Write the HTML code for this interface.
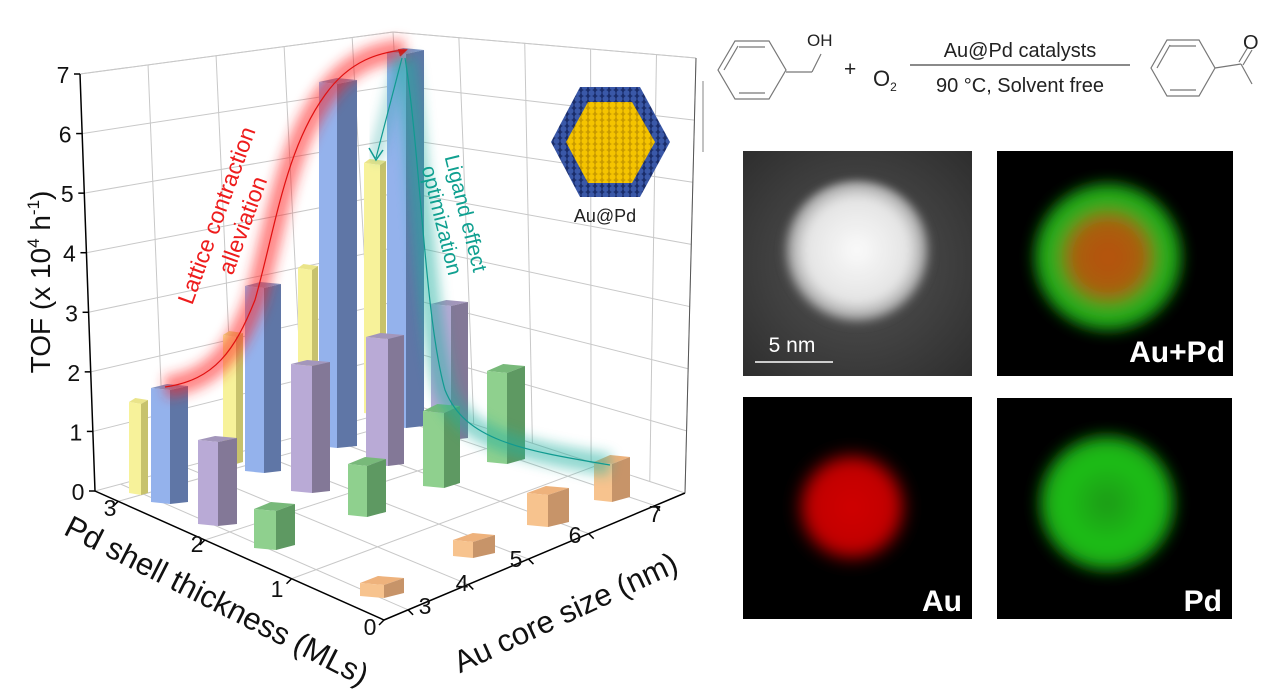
<!DOCTYPE html>
<html><head><meta charset="utf-8"><style>
html,body{margin:0;padding:0;background:#fff;}
svg{display:block;font-family:"Liberation Sans",Arial,sans-serif;}
</style></head><body>
<svg id="s" width="1266" height="698" viewBox="0 0 1266 698" xmlns="http://www.w3.org/2000/svg">
<defs>
<filter id="blur8" x="-20%" y="-20%" width="140%" height="140%"><feGaussianBlur stdDeviation="6"/></filter>
<filter id="blur3"><feGaussianBlur stdDeviation="4"/></filter>
<filter id="blurP" x="-50%" y="-50%" width="200%" height="200%"><feGaussianBlur stdDeviation="7"/></filter>
<radialGradient id="haadf" cx="0.5" cy="0.45" r="0.5"><stop offset="0" stop-color="#fafafa"/><stop offset="0.65" stop-color="#e4e4e4"/><stop offset="0.85" stop-color="#aaa"/><stop offset="1" stop-color="#4a4a4a" stop-opacity="0"/></radialGradient>
<radialGradient id="hbg" cx="0.5" cy="0.5" r="0.7"><stop offset="0" stop-color="#555"/><stop offset="1" stop-color="#2e2e2e"/></radialGradient>
<radialGradient id="rg" cx="0.5" cy="0.5" r="0.5"><stop offset="0" stop-color="#d00000"/><stop offset="0.7" stop-color="#c00000"/><stop offset="1" stop-color="#300" stop-opacity="0"/></radialGradient>
<radialGradient id="gg" cx="0.5" cy="0.5" r="0.5"><stop offset="0" stop-color="#1a9a10"/><stop offset="0.6" stop-color="#20c01a"/><stop offset="0.85" stop-color="#18a012"/><stop offset="1" stop-color="#030" stop-opacity="0"/></radialGradient>
<radialGradient id="mg" cx="0.5" cy="0.5" r="0.5"><stop offset="0" stop-color="#b85010"/><stop offset="0.45" stop-color="#a86010"/><stop offset="0.68" stop-color="#30b020"/><stop offset="0.9" stop-color="#18a012"/><stop offset="1" stop-color="#030" stop-opacity="0"/></radialGradient>
<pattern id="gold" width="7" height="6" patternUnits="userSpaceOnUse"><rect width="7" height="6" fill="#c89a00"/><circle cx="3.5" cy="3" r="3" fill="#f5c400"/></pattern>
<pattern id="blue" width="7" height="6" patternUnits="userSpaceOnUse"><rect width="7" height="6" fill="#1a2d6a"/><circle cx="3.5" cy="3" r="3" fill="#3a58a8"/></pattern>
</defs>
<g id="grid" stroke="#c8c8c8" stroke-width="1" fill="none"></g>
<g id="axes" stroke="#000" stroke-width="1.5" fill="none"></g>
<g id="bars"></g>
<g id="glow">
<path d="M165,387 C215,380 235,350 255,300 C275,230 285,150 325,95 C350,60 380,52 405,50" stroke="#ff2020" stroke-width="22" fill="none" opacity="0.55" filter="url(#blur8)"/>
<path d="M165,387 C215,380 235,350 255,300 C275,230 285,150 325,95 C350,60 380,52 405,50" stroke="#e01010" stroke-width="1.2" fill="none"/>
<path d="M398,50 l8,0 l-6,6" stroke="#e01010" stroke-width="1.5" fill="#e01010"/>
<path d="M405,58 C420,150 425,320 445,390 C465,440 520,450 610,465" stroke="#20b0a0" stroke-width="22" fill="none" opacity="0.5" filter="url(#blur8)"/>
<path d="M405,58 C420,150 425,320 445,390 C465,440 520,450 610,465" stroke="#109a90" stroke-width="1.2" fill="none"/>
<path d="M402,58 L375,160" stroke="#20a5a0" stroke-width="14" opacity="0.35" filter="url(#blur8)"/>
<path d="M402,58 L376,158" stroke="#109a90" stroke-width="1.2"/>
<path d="M369,148 L376,160 L383,150" stroke="#109a90" stroke-width="1.5" fill="none"/>
<text transform="translate(224,218) rotate(-70)" font-size="23" fill="#ee1c1c" text-anchor="middle">Lattice contraction</text>
<text transform="translate(250,228) rotate(-70)" font-size="23" fill="#ee1c1c" text-anchor="middle">alleviation</text>
<text transform="translate(459,215) rotate(76)" font-size="21" fill="#10a090" text-anchor="middle">Ligand effect</text>
<text transform="translate(435,222) rotate(76)" font-size="21" fill="#10a090" text-anchor="middle">optimization</text>
</g>
<polygon points="551,142 580,87 640,87 670,142 640,197 580,197" fill="url(#blue)"/>
<polygon points="566,142 588,102 632,102 655,142 632,183 588,183" fill="url(#gold)"/>
<text x="605" y="222" font-size="18" text-anchor="middle" fill="#222">Au@Pd</text>
<text transform="translate(50,282) rotate(-90)" font-size="28" text-anchor="middle" fill="#111">TOF (x 10<tspan font-size="17" dy="-11">4</tspan><tspan dy="11"> h</tspan><tspan font-size="17" dy="-11">-1</tspan><tspan dy="11">)</tspan></text>
<text transform="translate(212,610) rotate(27)" font-size="31" text-anchor="middle" fill="#111">Pd shell thickness (MLs)</text>
<text transform="translate(570,622) rotate(-25)" font-size="31" text-anchor="middle" fill="#111">Au core size (nm)</text>
<g id="ticks" font-size="23" fill="#111" text-anchor="middle"></g>
<g stroke="#777" stroke-width="1.2" fill="none">
<polygon points="718,70 735,41 769,41 786,70 769,99 735,99"/>
<line x1="739" y1="47" x2="765" y2="47"/><line x1="739" y1="93" x2="765" y2="93"/><line x1="724" y1="70" x2="738" y2="46"/>
<line x1="786" y1="72" x2="812" y2="72"/><line x1="812" y1="72" x2="821" y2="54"/>
<line x1="910" y1="65" x2="1130" y2="65" stroke="#444"/>
<polygon points="1151,68 1167,40 1199,40 1215,68 1199,96 1167,96"/>
<line x1="1170" y1="46" x2="1196" y2="46"/><line x1="1170" y1="90" x2="1196" y2="90"/><line x1="1157" y1="68" x2="1170" y2="45"/>
<line x1="1215" y1="68" x2="1241" y2="64"/><line x1="1241" y1="64" x2="1252" y2="84"/><line x1="1239" y1="62" x2="1248" y2="47"/><line x1="1243" y1="65" x2="1252" y2="50"/>
<line x1="703" y1="81" x2="703" y2="152" stroke="#999"/>
</g>
<text x="807" y="46" font-size="17" fill="#222">OH</text>
<text x="844" y="76" font-size="21" fill="#222">+</text>
<text x="873" y="86" font-size="22" fill="#222">O<tspan font-size="12" dy="5">2</tspan></text>
<text x="1020" y="57" font-size="20" text-anchor="middle" fill="#222">Au@Pd catalysts</text>
<text x="1020" y="92" font-size="20" text-anchor="middle" fill="#222">90 °C, Solvent free</text>
<text x="1243" y="49" font-size="20" fill="#222">O</text>
<rect x="743" y="151" width="229" height="225" fill="url(#hbg)"/>
<circle cx="857" cy="258" r="78" fill="url(#haadf)" filter="url(#blur3)"/>
<text x="792" y="352" font-size="21" text-anchor="middle" fill="#fff">5 nm</text>
<line x1="755" y1="362" x2="833" y2="362" stroke="#fff" stroke-width="1.5"/>
<rect x="997" y="151" width="236" height="225" fill="#000"/>
<circle cx="1108" cy="257" r="78" fill="url(#mg)" filter="url(#blurP)"/>
<text x="1225" y="362" font-size="30" font-weight="bold" text-anchor="end" fill="#fff">Au+Pd</text>
<rect x="743" y="397" width="229" height="222" fill="#000"/>
<circle cx="852" cy="507" r="62" fill="url(#rg)" filter="url(#blurP)"/>
<text x="962" y="611" font-size="30" font-weight="bold" text-anchor="end" fill="#fff">Au</text>
<rect x="997" y="398" width="235" height="221" fill="#000"/>
<circle cx="1107" cy="503" r="74" fill="url(#gg)" filter="url(#blurP)"/>
<text x="1222" y="611" font-size="30" font-weight="bold" text-anchor="end" fill="#fff">Pd</text>
</svg>
<script>
var NS="http://www.w3.org/2000/svg";
function el(p,t,a,txt){var e=document.createElementNS(NS,t);for(var k in a)e.setAttribute(k,a[k]);if(txt!=null)e.textContent=txt;document.getElementById(p).appendChild(e);return e;}
function lerp(a,b,t){return [a[0]+(b[0]-a[0])*t,a[1]+(b[1]-a[1])*t];}
var L0=[95,491],L7=[80,74],B0=[415,405],B7=[393,32],R0=[685,493],R7=[696,58],F=[384,620];
for(var i=0;i<=7;i++){var t=i/7;var a=lerp(L0,L7,t),b=lerp(B0,B7,t),c=lerp(R0,R7,t);
 el("grid","polyline",{points:a+" "+b+" "+c});
 el("ticks","text",{x:a[0]-17,y:a[1]+9},String(i));
 el("axes","line",{x1:a[0],y1:a[1],x2:a[0]-6,y2:a[1]});}
for(var i=1;i<=4;i++){var t=i/4.6;el("grid","line",{x1:lerp(L0,B0,t)[0],y1:lerp(L0,B0,t)[1],x2:lerp(L7,B7,t)[0],y2:lerp(L7,B7,t)[1]});}
for(var i=1;i<=4;i++){var t=i/4.6;el("grid","line",{x1:lerp(B0,R0,t)[0],y1:lerp(B0,R0,t)[1],x2:lerp(B7,R7,t)[0],y2:lerp(B7,R7,t)[1]});}
el("grid","line",{x1:B0[0],y1:B0[1],x2:B7[0],y2:B7[1]});
el("grid","line",{x1:R0[0],y1:R0[1],x2:R7[0],y2:R7[1]});
el("grid","polyline",{points:L7+" "+B7+" "+R7});
var pdT=[[370,635,"0",0],[277,597,"1",0.32],[197,552,"2",0.62],[110,516,"3",0.92]];
var auT=[[425,614,"3",0.08],[462,591,"4",0.28],[516,567,"5",0.48],[575,543,"6",0.68],[655,522,"7",0.9]];
pdT.forEach(function(p){var a=lerp(F,L0,p[3]),b=lerp(R0,B0,p[3]);el("grid","line",{x1:a[0],y1:a[1],x2:b[0],y2:b[1]});el("ticks","text",{x:p[0],y:p[1]},p[2]);el("axes","line",{x1:a[0],y1:a[1],x2:a[0]-5,y2:a[1]+5});});
auT.forEach(function(p){var a=lerp(F,R0,p[3]),b=lerp(L0,B0,p[3]);el("grid","line",{x1:a[0],y1:a[1],x2:b[0],y2:b[1]});el("ticks","text",{x:p[0],y:p[1]},p[2]);el("axes","line",{x1:a[0],y1:a[1],x2:a[0]+5,y2:a[1]+5});});
el("axes","polyline",{points:L7+" "+L0+" "+F+" "+R0});
el("axes","line",{x1:R0[0],y1:R0[1],x2:R7[0],y2:R7[1],"stroke-width":"1","stroke":"#555"});
var C={Y:["#f7f29a","#c7c26c","#eae48a"],B:["#94b2ec","#5f76a6","#8098c8"],P:["#b9aad6","#837897","#a396bb"],G:["#8fd08e","#5e9962","#78b97a"],O:["#f7c38e","#c79469","#eeb27c"]};
var bars=[[364,380,386,163,415,"Y"],[298,312,318,268,422,"Y"],[387,406,424,52,428,"B"],[431,451,468,304,440,"P"],[319,337,357,82,448,"B"],[487,507,525,371,464,"G"],[223,236,243,335,464,"Y"],[366,388,404,337,466,"P"],[245,264,281,286,473,"B"],[423,444,460,411,488,"G"],[291,312,330,364,493,"P"],[129,141,148,402,495,"Y"],[594,612,630,462,502,"O"],[151,170,188,388,504,"B"],[348,367,386,464,517,"G"],[198,218,237,440,526,"P"],[527,548,569,493,527,"O"],[254,276,295,509,550,"G"],[453,473,495,540,558,"O"],[360,384,404,583,598,"O"]];
bars.forEach(function(b){var x1=b[0],x2=b[1],x3=b[2],t=b[3],bt=b[4],c=C[b[5]];
 var d=b[5]=="O"||b[5]=="G"?7:4;
 el("bars","polygon",{points:x1+","+t+" "+x2+","+(t+2)+" "+x3+","+(t-d+2)+" "+(x1+(x3-x2)*0.9)+","+(t-d),fill:c[2]});
 el("bars","polygon",{points:x1+","+t+" "+x2+","+(t+2)+" "+x2+","+(bt)+" "+x1+","+(bt-2),fill:c[0]});
 el("bars","polygon",{points:x2+","+(t+2)+" "+x3+","+(t-d+2)+" "+x3+","+(bt-d+2)+" "+x2+","+bt,fill:c[1]});
});
</script>
</body></html>
